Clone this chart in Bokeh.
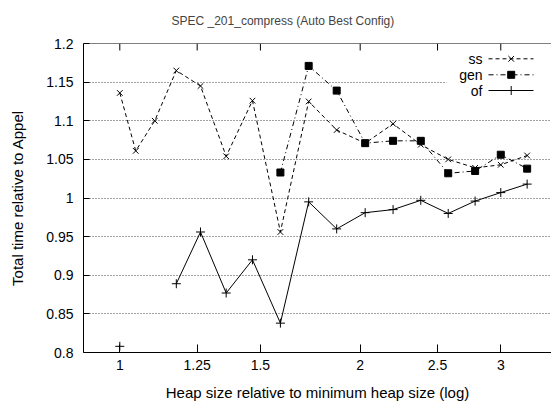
import math
import numpy as np
from bokeh.plotting import figure
from bokeh.models import (FixedTicker, CustomJSTickFormatter, Label,
                          BoxAnnotation, ColumnDataSource, Span)
from bokeh.embed import file_html
from bokeh.resources import INLINE

nan = float("nan")

# ---- data ----
heap = [1.0, 1.047, 1.106, 1.177, 1.262, 1.359, 1.466, 1.589, 1.724, 1.869,
        2.029, 2.199, 2.382, 2.578, 2.786, 3.0, 3.237]
ss = [1.136, 1.061, 1.100, 1.165, 1.145, 1.054, 1.126, 0.956, 1.125, 1.088,
      1.071, 1.096, 1.069, 1.050, 1.039, 1.043, 1.055]
gen = [nan, nan, nan, nan, nan, nan, nan, 1.033, 1.171, 1.139,
       1.071, 1.074, 1.074, 1.032, 1.035, 1.056, 1.038]
of = [0.808, nan, nan, 0.889, 0.956, 0.877, 0.920, 0.838, 0.995, 0.960,
      0.981, 0.985, 0.997, 0.980, 0.996, 1.007, 1.018]

x_ticks = [1, 1.25, 1.5, 2, 2.5, 3]
y_ticks = [0.8, 0.85, 0.9, 0.95, 1.0, 1.05, 1.1, 1.15, 1.2]

title = "SPEC _201_compress (Auto Best Config)"
x_label = "Heap size relative to minimum heap size (log)"
y_label = "Total time relative to Appel"
series_names = ["ss", "gen", "of"]

# ---- layout ----
W, H = 551, 404
FL, FT = 83, 43          # frame left / top inside the figure
FW, FH = 468, 309        # frame size
XS, XE = 0.9006, 3.4725
YS, YE = 0.8, 1.2

FONT = "Liberation Sans"

p = figure(width=W, height=H, x_axis_type="log",
           x_range=(XS, XE), y_range=(YS, YE),
           output_backend="svg", toolbar_location=None,
           min_border_left=FL, min_border_right=W - FL - FW,
           min_border_top=FT, min_border_bottom=H - FT - FH)
p.outline_line_color = None
p.background_fill_color = "white"
p.border_fill_color = "white"


def xd(fx):
    a, b = math.log10(XS), math.log10(XE)
    return 10 ** (a + (fx - FL) / FW * (b - a))


def yd(fy):
    return YE - (fy - FT) / FH * (YE - YS)


p.title.text = title
p.title.align = "left"
p.title.offset = 171 - FL
p.title.padding = dict(left=0, right=0, top=0, bottom=11)
p.title.text_font = FONT
p.title.text_font_size = "12px"
p.title.text_font_style = "normal"

fmt = CustomJSTickFormatter(code="return String(Math.round(tick*1000)/1000);")

xa = p.xaxis[0]
xa.ticker = FixedTicker(ticks=x_ticks)
xa.formatter = fmt
ya = p.yaxis[0]
ya.ticker = FixedTicker(ticks=y_ticks)
ya.formatter = fmt

for ax in (xa, ya):
    ax.major_tick_out = 0
    ax.minor_tick_in = 0
    ax.minor_tick_out = 0
    ax.axis_line_color = "black"
    ax.major_tick_line_color = "black"
    ax.major_label_text_font = FONT
    ax.major_label_text_font_size = "14px"
    ax.major_label_text_color = "black"
    ax.axis_label_text_font = FONT
    ax.axis_label_text_font_size = "15px"
    ax.axis_label_text_font_style = "normal"
    ax.axis_label_text_color = "black"

xa.major_tick_in = 8
ya.major_tick_in = 6
xa.axis_label = x_label
xa.major_label_standoff = 7
xa.axis_label_standoff = 11
ya.axis_label = y_label
ya.major_label_standoff = 10
ya.axis_label_standoff = 17

p.xgrid.visible = False
p.ygrid.grid_line_color = "#444444"
p.ygrid.grid_line_dash = "1 2"
p.ygrid.grid_line_width = 1

# frame top border and mirrored x ticks along it
p.add_layout(Span(location=YE, dimension="width", line_color="black", line_width=1))
tick_len = 7 * (YE - YS) / FH
p.segment(x0=x_ticks, y0=[YE] * len(x_ticks), x1=x_ticks,
          y1=[YE - tick_len] * len(x_ticks), line_color="black", line_width=1)

src = ColumnDataSource(dict(x=heap, ss=np.array(ss), gen=np.array(gen), of=np.array(of)))

styles = {
    "ss": dict(dash="4 3", marker="x", size=8),
    "gen": dict(dash="5 3 1 3", marker="square", size=7),
    "of": dict(dash="solid", marker="cross", size=9),
}
for name in series_names:
    st = styles[name]
    p.line("x", name, source=src, line_color="black", line_width=1, line_dash=st["dash"])
    p.scatter("x", name, source=src, marker=st["marker"], size=st["size"],
              line_color="black", fill_color="black", line_width=1)

# ---- key (label, then line sample), placed relative to the frame ----
p.add_layout(BoxAnnotation(left=xd(446), right=xd(FL + FW), top=yd(50), bottom=yd(97),
                           fill_color="white", fill_alpha=1, line_color=None,
                           level="underlay"))
key_rows = [58.3, 74.3, 90.0]
for name, fy in zip(series_names, key_rows):
    st = styles[name]
    p.add_layout(Label(x=xd(482), y=yd(fy), text=name, text_align="right",
                       text_baseline="middle", text_font=FONT,
                       text_font_size="14px", text_color="black"))
    p.line([xd(488), xd(533)], [yd(fy), yd(fy)], line_color="black",
           line_width=1, line_dash=st["dash"])
    p.scatter([xd(510.7)], [yd(fy)], marker=st["marker"], size=st["size"],
              line_color="black", fill_color="black", line_width=1)

open("out.html", "w").write(file_html(p, INLINE))
